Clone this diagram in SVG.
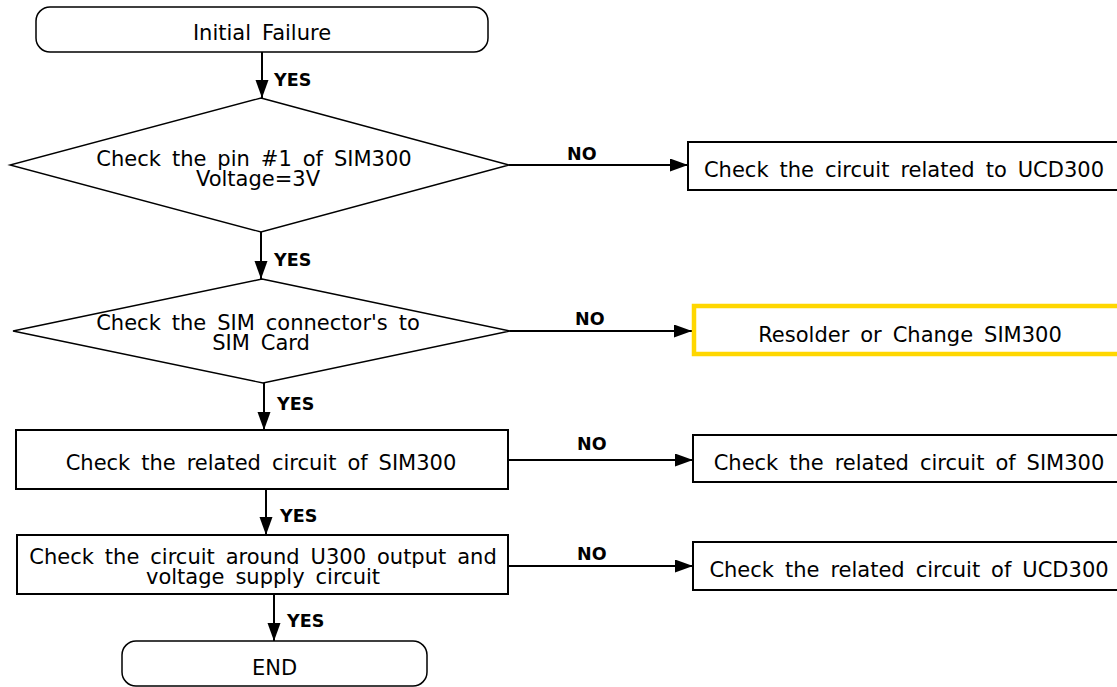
<svg xmlns="http://www.w3.org/2000/svg" width="1117" height="687" viewBox="0 0 1117 687">
<style>
.t{font-family:"DejaVu Sans","Verdana",sans-serif;font-size:21px;fill:#000;text-anchor:middle;word-spacing:4.3px}
.l{font-family:"DejaVu Sans","Verdana",sans-serif;font-size:17.5px;font-weight:bold;fill:#000}
.box{fill:#fff;stroke:#000;stroke-width:2}
.term{fill:#fff;stroke:#000;stroke-width:1.5}
.dia{fill:#fff;stroke:#000;stroke-width:1.4}
.hl{fill:#fff;stroke:#FFD700;stroke-width:4.5}
.c{stroke:#000;stroke-width:2;fill:none;marker-end:url(#ah)}
</style>
<defs>
<marker id="ah" markerUnits="userSpaceOnUse" markerWidth="19" markerHeight="14" refX="18" refY="6.5" orient="auto">
<path d="M0,0 L18,6.5 L0,13 Z" fill="#000"/>
</marker>
</defs>
<rect width="1117" height="687" fill="#fff"/>
<g id="connectors">
<line class="c" x1="262" y1="52" x2="262" y2="98"/>
<line class="c" x1="261" y1="232" x2="261" y2="279"/>
<line class="c" x1="264" y1="383" x2="264" y2="430"/>
<line class="c" x1="266" y1="489" x2="266" y2="535"/>
<line class="c" x1="274" y1="594" x2="274" y2="641"/>
<line class="c" x1="509" y1="165" x2="688" y2="165"/>
<line class="c" x1="510" y1="331" x2="692" y2="331"/>
<line class="c" x1="508" y1="460" x2="693" y2="460"/>
<line class="c" x1="508" y1="566" x2="693" y2="566"/>
<text class="l" x="274" y="86">YES</text>
<text class="l" x="274" y="266">YES</text>
<text class="l" x="277" y="410">YES</text>
<text class="l" x="280" y="522">YES</text>
<text class="l" x="287" y="627">YES</text>
<text class="l" x="567" y="160">NO</text>
<text class="l" x="575" y="325">NO</text>
<text class="l" x="577" y="450">NO</text>
<text class="l" x="577" y="560">NO</text>
</g>
<g id="start">
<rect class="term" x="36" y="7" width="452" height="45" rx="14"/>
<text class="t" x="262" y="40">Initial Failure</text>
</g>
<g id="decision1">
<polygon class="dia" points="261,98 509,165 261,232 10,165"/>
<text class="t" x="254" y="166">Check the pin #1 of SIM300</text>
<text class="t" x="258" y="186">Voltage=3V</text>
</g>
<g id="no1">
<rect class="box" x="688" y="142" width="440" height="48"/>
<text class="t" x="904" y="177">Check the circuit related to UCD300</text>
</g>
<g id="decision2">
<polygon class="dia" points="262,279 510,331 263,383 13,331"/>
<text class="t" x="258" y="330">Check the SIM connector's to</text>
<text class="t" x="261" y="350">SIM Card</text>
</g>
<g id="no2">
<rect class="hl" x="694" y="306" width="440" height="48"/>
<text class="t" x="910" y="342">Resolder or Change SIM300</text>
</g>
<g id="step3">
<rect class="box" x="16" y="430" width="492" height="59"/>
<text class="t" x="261" y="470">Check the related circuit of SIM300</text>
</g>
<g id="no3">
<rect class="box" x="693" y="435" width="440" height="47"/>
<text class="t" x="909" y="470">Check the related circuit of SIM300</text>
</g>
<g id="step4">
<rect class="box" x="17" y="535" width="491" height="59"/>
<text class="t" x="263" y="564">Check the circuit around U300 output and</text>
<text class="t" x="263" y="584">voltage supply circuit</text>
</g>
<g id="no4">
<rect class="box" x="693" y="542" width="440" height="48"/>
<text class="t" x="909" y="577">Check the related circuit of UCD300</text>
</g>
<g id="end">
<rect class="term" x="122" y="641" width="305" height="45" rx="14"/>
<text class="t" x="274.5" y="675">END</text>
</g>
</svg>
